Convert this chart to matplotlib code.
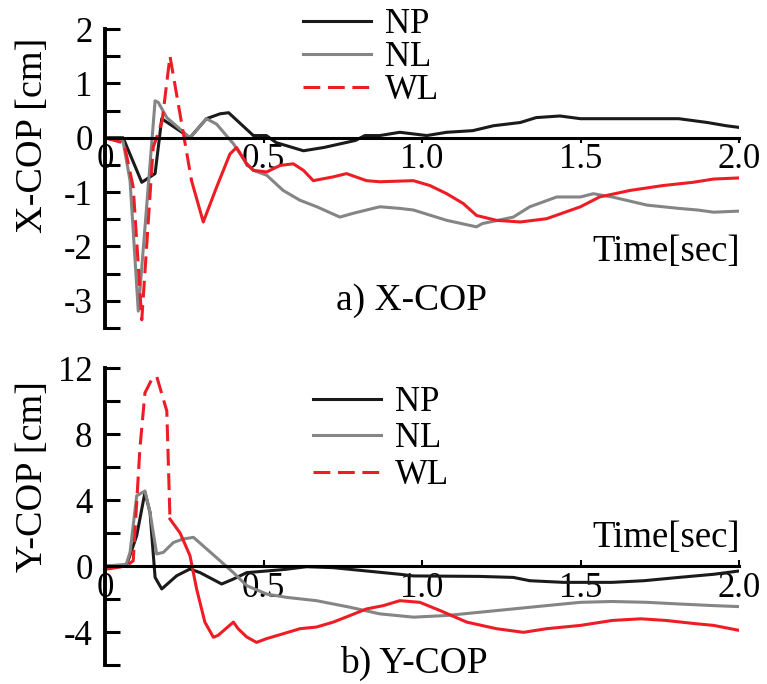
import matplotlib.pyplot as plt
from matplotlib.lines import Line2D
from matplotlib.ticker import MultipleLocator

plt.rcParams['font.family'] = ['Liberation Serif', 'DejaVu Serif']
plt.rcParams['axes.unicode_minus'] = False

# ---- X-COP data (time in sec, value in cm) ----
x_np_t = [0, 0.057, 0.116, 0.158, 0.179, 0.268, 0.32, 0.363, 0.39, 0.468, 0.509, 0.54, 0.626,
          0.69, 0.79, 0.82, 0.867, 0.93, 1.015, 1.078, 1.16, 1.225, 1.31, 1.36, 1.435, 1.5,
          1.6, 1.71, 1.81, 1.9, 1.96, 2.0]
x_np_v = [0, 0, -0.82, -0.66, 0.35, 0, 0.35, 0.44, 0.46, 0.04, 0.04, -0.09, -0.24,
          -0.18, -0.05, 0.04, 0.04, 0.1, 0.04, 0.1, 0.13, 0.22, 0.28, 0.37, 0.4, 0.35,
          0.35, 0.35, 0.35, 0.28, 0.22, 0.19]

x_nl_t = [0, 0.057, 0.079, 0.105, 0.158, 0.168, 0.195, 0.268, 0.32, 0.352, 0.405, 0.447,
          0.468, 0.51, 0.562, 0.615, 0.668, 0.741, 0.783, 0.867, 0.93, 0.973, 1.078, 1.172,
          1.19, 1.288, 1.34, 1.425, 1.5, 1.54, 1.6, 1.71, 1.81, 1.87, 1.92, 2.0]
x_nl_v = [0, -0.07, -0.79, -3.19, 0.68, 0.65, 0.37, 0, 0.35, 0.25, -0.11, -0.48,
          -0.6, -0.69, -0.97, -1.15, -1.27, -1.46, -1.39, -1.27, -1.3, -1.33, -1.52, -1.64,
          -1.58, -1.46, -1.27, -1.09, -1.09, -1.03, -1.09, -1.24, -1.3, -1.33, -1.37, -1.35]

x_wl_t = [0, 0.06, 0.089, 0.116, 0.152, 0.18, 0.205, 0.273, 0.31, 0.352, 0.394, 0.415,
          0.447, 0.468, 0.51, 0.552, 0.594, 0.626, 0.657, 0.72, 0.762, 0.825, 0.867, 0.973,
          1.025, 1.078, 1.13, 1.172, 1.235, 1.31, 1.393, 1.5, 1.56, 1.656, 1.76, 1.855,
          1.92, 2.0]
x_wl_v = [0, -0.1, -0.91, -3.35, -0.18, 0.3, 1.5, -0.79, -1.55, -0.91, -0.3, -0.18,
          -0.48, -0.6, -0.63, -0.51, -0.48, -0.6, -0.79, -0.72, -0.66, -0.79, -0.81, -0.79,
          -0.88, -1.03, -1.21, -1.43, -1.52, -1.55, -1.49, -1.27, -1.09, -0.97, -0.88, -0.82,
          -0.76, -0.74]
x_wl_dash_end = 7  # index where the dashed part of WL ends

# ---- Y-COP data ----
y_np_t = [0, 0.067, 0.1, 0.126, 0.142, 0.158, 0.179, 0.226, 0.268, 0.3, 0.368, 0.405,
          0.447, 0.51, 0.57, 0.636, 0.72, 0.825, 0.93, 0.973, 1.183, 1.288, 1.34, 1.446,
          1.6, 1.7, 1.81, 1.92, 2.0]
y_np_v = [0, 0, 1.84, 4.47, 3.25, -0.69, -1.39, -0.59, -0.18, -0.4, -1.09, -0.79,
          -0.4, -0.3, -0.2, -0.04, -0.1, -0.3, -0.5, -0.6, -0.63, -0.69, -0.89, -0.99,
          -0.99, -0.89, -0.69, -0.5, -0.3]

y_nl_t = [0, 0.067, 0.079, 0.1, 0.126, 0.142, 0.163, 0.184, 0.216, 0.247, 0.279, 0.321,
          0.363, 0.405, 0.447, 0.51, 0.573, 0.667, 0.773, 0.867, 0.973, 1.078, 1.183, 1.288,
          1.393, 1.5, 1.6, 1.71, 1.81, 1.92, 2.0]
y_nl_v = [0, 0.1, 0.83, 4.26, 4.55, 3.25, 0.73, 0.83, 1.43, 1.64, 1.74, 1.03,
          0.32, -0.4, -1.19, -1.7, -1.9, -2.1, -2.5, -2.9, -3.1, -3.0, -2.8, -2.6,
          -2.4, -2.2, -2.15, -2.2, -2.3, -2.4, -2.46]

y_wl_t = [0, 0.067, 0.089, 0.11, 0.126, 0.147, 0.163, 0.195, 0.205, 0.237, 0.268, 0.289,
          0.315, 0.342, 0.357, 0.405, 0.42, 0.447, 0.478, 0.51, 0.563, 0.615, 0.667, 0.72,
          0.773, 0.825, 0.878, 0.93, 0.993, 1.057, 1.141, 1.235, 1.32, 1.393, 1.5, 1.6,
          1.69, 1.77, 1.865, 1.92, 2.0]
y_wl_v = [-0.2, 0, 0.32, 7.1, 10.5, 11.3, 11.5, 9.4, 2.85, 2.0, 0.63, -1.39,
          -3.4, -4.32, -4.2, -3.4, -3.8, -4.3, -4.63, -4.4, -4.1, -3.8, -3.7, -3.4,
          -3.0, -2.6, -2.4, -2.1, -2.2, -2.7, -3.4, -3.8, -4.02, -3.8, -3.6, -3.3,
          -3.2, -3.3, -3.5, -3.6, -3.9]
y_wl_dash_end = 8

labels = ['NP', 'NL', 'WL']
c_np = '#1a1a1a'
c_nl = '#858585'
c_wl = '#ee1d25'
lw = 2.2
dash = (0, (5.5, 2.5))

fig = plt.figure(figsize=(7.67, 6.84), dpi=100)
ax1 = fig.add_axes([0.1369, 0.5205, 0.8266, 0.4371])
ax2 = fig.add_axes([0.1369, 0.0278, 0.8266, 0.434])


def style_axis(ax, ylim, major, minor, xtick_dir):
    ax.set_xlim(0, 2.0)
    ax.set_ylim(*ylim)
    for s in ['top', 'right']:
        ax.spines[s].set_visible(False)
    ax.spines['bottom'].set_position(('data', 0))
    ax.spines['left'].set_linewidth(2.8)
    ax.spines['bottom'].set_linewidth(2.2)
    ax.yaxis.set_major_locator(MultipleLocator(major))
    ax.yaxis.set_minor_locator(MultipleLocator(minor))
    ax.xaxis.set_major_locator(MultipleLocator(0.5))
    ax.xaxis.set_major_formatter(plt.FuncFormatter(lambda v, p: '0' if v == 0 else '%.1f' % v))
    ax.tick_params(axis='y', which='both', direction='in', length=11, width=2.2,
                   labelsize=25, pad=9)
    if xtick_dir == 'out':
        ax.tick_params(axis='x', direction='out', length=3.5, width=1.5, labelsize=25, pad=0)
    else:
        ax.tick_params(axis='x', direction='in', length=4, width=1.5, labelsize=25, pad=4)
    ax.patch.set_visible(False)


# ---- a) X-COP ----
ax1.plot(x_np_t, x_np_v, color=c_np, lw=lw)
ax1.plot(x_nl_t, x_nl_v, color=c_nl, lw=lw)
ax1.plot(x_wl_t[:x_wl_dash_end + 1], x_wl_v[:x_wl_dash_end + 1], color=c_wl, lw=lw, linestyle=dash)
ax1.plot(x_wl_t[x_wl_dash_end:], x_wl_v[x_wl_dash_end:], color=c_wl, lw=lw)
style_axis(ax1, (-3.5, 2), 1, 0.5, 'out')

# ---- b) Y-COP ----
ax2.plot(y_np_t, y_np_v, color=c_np, lw=lw)
ax2.plot(y_nl_t, y_nl_v, color=c_nl, lw=lw)
ax2.plot(y_wl_t[:y_wl_dash_end + 1], y_wl_v[:y_wl_dash_end + 1], color=c_wl, lw=lw, linestyle=dash)
ax2.plot(y_wl_t[y_wl_dash_end:], y_wl_v[y_wl_dash_end:], color=c_wl, lw=lw)
style_axis(ax2, (-6, 12), 4, 2, 'in')

handles = [Line2D([], [], color=c_np, lw=lw),
           Line2D([], [], color=c_nl, lw=lw),
           Line2D([], [], color=c_wl, lw=lw, linestyle=dash)]

for ax, anchor, sp in [(ax1, (303 / 767, 1 - 8 / 684), 0.0),
                       (ax2, (313 / 767, 1 - 386 / 684), 0.1)]:
    ax.legend(handles, labels, loc='upper left', bbox_to_anchor=anchor,
              bbox_transform=fig.transFigure, frameon=False, fontsize=25,
              handlelength=1.95, handletextpad=0.4, labelspacing=sp, borderpad=0,
              borderaxespad=0)

# axis labels and captions
fig.text(33 / 767, 1 - 135 / 684, 'X-COP [cm]', rotation=90, ha='center', va='center', fontsize=27.5)
fig.text(33 / 767, 1 - 477 / 684, 'Y-COP [cm]', rotation=90, ha='center', va='center', fontsize=27.5)
fig.text(740 / 767, 1 - 252 / 684, 'Time[sec]', ha='right', va='center', fontsize=26.5)
fig.text(740 / 767, 1 - 538 / 684, 'Time[sec]', ha='right', va='center', fontsize=26.5)
fig.text(412 / 767, 1 - 301 / 684, 'a) X-COP', ha='center', va='center', fontsize=27)
fig.text(414 / 767, 1 - 663 / 684, 'b) Y-COP', ha='center', va='center', fontsize=27)

fig.savefig('out.png', dpi=100)
